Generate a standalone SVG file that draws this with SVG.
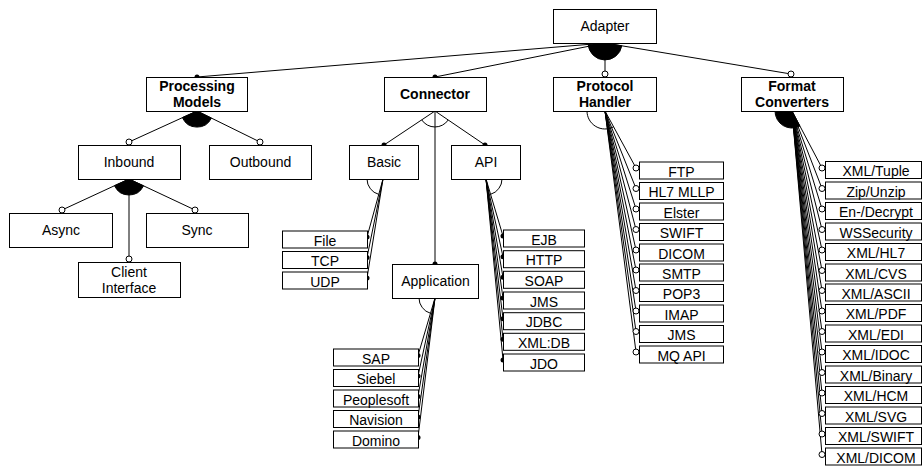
<svg xmlns="http://www.w3.org/2000/svg" width="923" height="466" viewBox="0 0 923 466">
<style>
rect{fill:#fff;stroke:#000;stroke-width:1}
text{font-family:"Liberation Sans",Arial,sans-serif;font-size:14px;text-anchor:middle;fill:#000}
.b{font-weight:bold}
.e line,.e path.l{stroke:#000;stroke-width:1;fill:none}
.arc{fill:none;stroke:#000;stroke-width:1}
.fill{fill:#000;stroke:#000;stroke-width:1}
.oc{fill:#fff;stroke:#000;stroke-width:1}
.fc{fill:#000}
</style>
<rect x="0" y="0" width="923" height="466" style="fill:#fff;stroke:none"/>
<g id="connectors" class="e">
<!-- Adapter -->
<line x1="605" y1="43" x2="197" y2="77"/>
<line x1="605" y1="43" x2="435" y2="77"/>
<line x1="605" y1="43" x2="605" y2="74"/>
<line x1="605" y1="43" x2="791" y2="74"/>
<path class="fill" d="M605,43 L621.8,45.8 A17,17 0 0,1 588.1,44.4 Z"/>
<circle class="fc" cx="197" cy="77" r="2.5"/>
<circle class="fc" cx="435" cy="77" r="2.5"/>
<circle class="oc" cx="605" cy="74" r="3"/>
<circle class="oc" cx="791" cy="74" r="3"/>
<!-- Processing Models -->
<line x1="197" y1="111" x2="129" y2="142"/>
<line x1="197" y1="111" x2="260" y2="142"/>
<path class="fill" d="M197,111 L211.4,118.1 A16,16 0 0,1 182.4,117.6 Z"/>
<circle class="oc" cx="129" cy="142" r="3"/>
<circle class="oc" cx="260" cy="142" r="3"/>
<!-- Inbound -->
<line x1="129" y1="179" x2="62" y2="210"/>
<line x1="129" y1="179" x2="195" y2="210"/>
<line x1="129" y1="179" x2="129" y2="259"/>
<path class="fill" d="M129,179 L143.5,185.8 A16,16 0 0,1 114.5,185.7 Z"/>
<circle class="oc" cx="62" cy="210" r="3"/>
<circle class="oc" cx="195" cy="210" r="3"/>
<circle class="oc" cx="129" cy="259" r="3"/>
<!-- Connector -->
<line x1="435" y1="111" x2="384" y2="145"/>
<line x1="435" y1="111" x2="485" y2="145"/>
<line x1="435" y1="111" x2="435" y2="264"/>
<path class="arc" d="M448.2,120 A16,16 0 0,1 421.7,119.9"/>
<circle class="fc" cx="384" cy="145" r="2.5"/>
<circle class="fc" cx="485" cy="145" r="2.5"/>
<circle class="fc" cx="435" cy="264" r="2.5"/>
<!-- Basic -->
<line x1="383" y1="179" x2="367" y2="237"/>
<line x1="383" y1="179" x2="367" y2="257.5"/>
<line x1="383" y1="179" x2="367" y2="278"/>
<path class="arc" d="M367,179 A16,16 0 0,0 378.8,194.4"/>
<circle class="fc" cx="367" cy="237" r="2.5"/>
<circle class="fc" cx="367" cy="257.5" r="2.5"/>
<circle class="fc" cx="367" cy="278" r="2.5"/>
<!-- API -->
<line x1="486" y1="179" x2="503" y2="236"/>
<line x1="486" y1="179" x2="503" y2="256.7"/>
<line x1="486" y1="179" x2="503" y2="277.3"/>
<line x1="486" y1="179" x2="503" y2="298"/>
<line x1="486" y1="179" x2="503" y2="318.7"/>
<line x1="486" y1="179" x2="503" y2="339.3"/>
<line x1="486" y1="179" x2="503" y2="360"/>
<path class="arc" d="M502,179 A16,16 0 0,1 490.6,194.3"/>
<circle class="fc" cx="503" cy="236" r="2.5"/>
<circle class="fc" cx="503" cy="256.7" r="2.5"/>
<circle class="fc" cx="503" cy="277.3" r="2.5"/>
<circle class="fc" cx="503" cy="298" r="2.5"/>
<circle class="fc" cx="503" cy="318.7" r="2.5"/>
<circle class="fc" cx="503" cy="339.3" r="2.5"/>
<circle class="fc" cx="503" cy="360" r="2.5"/>
<!-- Application -->
<line x1="435" y1="298" x2="418" y2="355.5"/>
<line x1="435" y1="298" x2="418" y2="376"/>
<line x1="435" y1="298" x2="418" y2="396.5"/>
<line x1="435" y1="298" x2="418" y2="417"/>
<line x1="435" y1="298" x2="418" y2="437.5"/>
<path class="arc" d="M419,298 A16,16 0 0,0 430.5,313.3"/>
<circle class="fc" cx="418" cy="355.5" r="2.5"/>
<circle class="fc" cx="418" cy="376" r="2.5"/>
<circle class="fc" cx="418" cy="396.5" r="2.5"/>
<circle class="fc" cx="418" cy="417" r="2.5"/>
<circle class="fc" cx="418" cy="437.5" r="2.5"/>
<!-- Protocol Handler -->
<line x1="605" y1="111" x2="636" y2="168"/>
<line x1="605" y1="111" x2="636" y2="188.5"/>
<line x1="605" y1="111" x2="636" y2="209"/>
<line x1="605" y1="111" x2="636" y2="229.5"/>
<line x1="605" y1="111" x2="636" y2="250"/>
<line x1="605" y1="111" x2="636" y2="270"/>
<line x1="605" y1="111" x2="636" y2="290.5"/>
<line x1="605" y1="111" x2="636" y2="311"/>
<line x1="605" y1="111" x2="636" y2="331.5"/>
<line x1="605" y1="111" x2="636" y2="352"/>
<path class="arc" d="M587,111 A18,18 0 0,0 613.6,126.8"/>
<circle class="oc" cx="636" cy="168" r="3"/>
<circle class="oc" cx="636" cy="188.5" r="3"/>
<circle class="oc" cx="636" cy="209" r="3"/>
<circle class="oc" cx="636" cy="229.5" r="3"/>
<circle class="oc" cx="636" cy="250" r="3"/>
<circle class="oc" cx="636" cy="270" r="3"/>
<circle class="oc" cx="636" cy="290.5" r="3"/>
<circle class="oc" cx="636" cy="311" r="3"/>
<circle class="oc" cx="636" cy="331.5" r="3"/>
<circle class="oc" cx="636" cy="352" r="3"/>
<!-- Format Converters -->
<line x1="792" y1="111" x2="822" y2="168"/>
<line x1="792" y1="111" x2="822" y2="188.5"/>
<line x1="792" y1="111" x2="822" y2="209"/>
<line x1="792" y1="111" x2="822" y2="229.5"/>
<line x1="792" y1="111" x2="822" y2="250"/>
<line x1="792" y1="111" x2="822" y2="270.5"/>
<line x1="792" y1="111" x2="822" y2="290.5"/>
<line x1="792" y1="111" x2="822" y2="311"/>
<line x1="792" y1="111" x2="822" y2="331.5"/>
<line x1="792" y1="111" x2="822" y2="352"/>
<line x1="792" y1="111" x2="822" y2="372.5"/>
<line x1="792" y1="111" x2="822" y2="393"/>
<line x1="792" y1="111" x2="822" y2="413.5"/>
<line x1="792" y1="111" x2="822" y2="434"/>
<line x1="792" y1="111" x2="822" y2="454.5"/>
<path class="fill" d="M792,111 L775,111 A17,17 0 0,0 799.9,126.1 Z"/>
<circle class="oc" cx="822" cy="168" r="3"/>
<circle class="oc" cx="822" cy="188.5" r="3"/>
<circle class="oc" cx="822" cy="209" r="3"/>
<circle class="oc" cx="822" cy="229.5" r="3"/>
<circle class="oc" cx="822" cy="250" r="3"/>
<circle class="oc" cx="822" cy="270.5" r="3"/>
<circle class="oc" cx="822" cy="290.5" r="3"/>
<circle class="oc" cx="822" cy="311" r="3"/>
<circle class="oc" cx="822" cy="331.5" r="3"/>
<circle class="oc" cx="822" cy="352" r="3"/>
<circle class="oc" cx="822" cy="372.5" r="3"/>
<circle class="oc" cx="822" cy="393" r="3"/>
<circle class="oc" cx="822" cy="413.5" r="3"/>
<circle class="oc" cx="822" cy="434" r="3"/>
<circle class="oc" cx="822" cy="454.5" r="3"/>
</g>
<g id="adapter"><rect x="553.5" y="9.5" width="103" height="34"/><text x="605" y="31">Adapter</text></g>
<g id="processing-models"><rect x="146.5" y="77.5" width="101" height="34"/><text class="b" x="197" y="90.5">Processing</text><text class="b" x="197" y="106.5">Models</text></g>
<g id="connector"><rect x="384.5" y="77.5" width="102" height="34"/><text class="b" x="435" y="99">Connector</text></g>
<g id="protocol-handler"><rect x="553.5" y="77.5" width="103" height="34"/><text class="b" x="605" y="90.5">Protocol</text><text class="b" x="605" y="106.5">Handler</text></g>
<g id="format-converters"><rect x="741.5" y="77.5" width="102" height="34"/><text class="b" x="792" y="90.5">Format</text><text class="b" x="792" y="106.5">Converters</text></g>
<g id="inbound"><rect x="78.5" y="145.5" width="102" height="34"/><text x="129" y="167">Inbound</text></g>
<g id="outbound"><rect x="209.5" y="145.5" width="102" height="34"/><text x="260.5" y="167">Outbound</text></g>
<g id="async"><rect x="9.5" y="213.5" width="103" height="34"/><text x="61" y="235">Async</text></g>
<g id="sync"><rect x="146.5" y="213.5" width="102" height="34"/><text x="197" y="235">Sync</text></g>
<g id="client-interface"><rect x="78.5" y="262.5" width="102" height="35"/><text x="129" y="277">Client</text><text x="129" y="293">Interface</text></g>
<g id="basic"><rect x="349.5" y="145.5" width="69" height="34"/><text x="384" y="167">Basic</text></g>
<g id="api"><rect x="451.5" y="145.5" width="69" height="34"/><text x="486" y="167">API</text></g>
<g id="application"><rect x="392.5" y="264.5" width="86" height="34"/><text x="435.5" y="286">Application</text></g>
<g id="file"><rect x="282.5" y="231" width="85" height="17"/><text x="325" y="245.5">File</text></g>
<g id="tcp"><rect x="282.5" y="251.5" width="85" height="17"/><text x="325" y="266">TCP</text></g>
<g id="udp"><rect x="282.5" y="272" width="85" height="17"/><text x="325" y="286.5">UDP</text></g>
<g id="ejb"><rect x="503.5" y="230" width="81" height="17"/><text x="544" y="244.5">EJB</text></g>
<g id="http"><rect x="503.5" y="250.7" width="81" height="17"/><text x="544" y="265.2">HTTP</text></g>
<g id="soap"><rect x="503.5" y="271.3" width="81" height="17"/><text x="544" y="285.8">SOAP</text></g>
<g id="jms-api"><rect x="503.5" y="292" width="81" height="17"/><text x="544" y="306.5">JMS</text></g>
<g id="jdbc"><rect x="503.5" y="312.7" width="81" height="17"/><text x="544" y="327.2">JDBC</text></g>
<g id="xmldb"><rect x="503.5" y="333.3" width="81" height="17"/><text x="544" y="347.8">XML:DB</text></g>
<g id="jdo"><rect x="503.5" y="354" width="81" height="17"/><text x="544" y="368.5">JDO</text></g>
<g id="sap"><rect x="333.5" y="349" width="85" height="17"/><text x="376" y="363.5">SAP</text></g>
<g id="siebel"><rect x="333.5" y="369.5" width="85" height="17"/><text x="376" y="384">Siebel</text></g>
<g id="peoplesoft"><rect x="333.5" y="390" width="85" height="17"/><text x="376" y="404.5">Peoplesoft</text></g>
<g id="navision"><rect x="333.5" y="410.5" width="85" height="17"/><text x="376" y="425">Navision</text></g>
<g id="domino"><rect x="333.5" y="431" width="85" height="17"/><text x="376" y="445.5">Domino</text></g>
<g id="ftp"><rect x="639.5" y="162" width="84" height="17"/><text x="681.5" y="176.5">FTP</text></g>
<g id="hl7mllp"><rect x="639.5" y="182.5" width="84" height="17"/><text x="681.5" y="197">HL7 MLLP</text></g>
<g id="elster"><rect x="639.5" y="203" width="84" height="17"/><text x="681.5" y="217.5">Elster</text></g>
<g id="swift"><rect x="639.5" y="223.5" width="84" height="17"/><text x="681.5" y="238">SWIFT</text></g>
<g id="dicom"><rect x="639.5" y="244" width="84" height="17"/><text x="681.5" y="258.5">DICOM</text></g>
<g id="smtp"><rect x="639.5" y="264" width="84" height="17"/><text x="681.5" y="278.5">SMTP</text></g>
<g id="pop3"><rect x="639.5" y="284.5" width="84" height="17"/><text x="681.5" y="299">POP3</text></g>
<g id="imap"><rect x="639.5" y="305" width="84" height="17"/><text x="681.5" y="319.5">IMAP</text></g>
<g id="jms"><rect x="639.5" y="325.5" width="84" height="17"/><text x="681.5" y="340">JMS</text></g>
<g id="mqapi"><rect x="639.5" y="346" width="84" height="17"/><text x="681.5" y="360.5">MQ API</text></g>
<g id="xml-tuple"><rect x="825.5" y="161.5" width="96" height="17"/><text x="876" y="176">XML/Tuple</text></g>
<g id="zip"><rect x="825.5" y="182" width="96" height="17"/><text x="876" y="196.5">Zip/Unzip</text></g>
<g id="crypt"><rect x="825.5" y="202.5" width="96" height="17"/><text x="876" y="217">En-/Decrypt</text></g>
<g id="wssecurity"><rect x="825.5" y="223" width="96" height="17"/><text x="876" y="237.5">WSSecurity</text></g>
<g id="xml-hl7"><rect x="825.5" y="243.5" width="96" height="17"/><text x="876" y="258">XML/HL7</text></g>
<g id="xml-cvs"><rect x="825.5" y="264" width="96" height="17"/><text x="876" y="278.5">XML/CVS</text></g>
<g id="xml-ascii"><rect x="825.5" y="284" width="96" height="17"/><text x="876" y="298.5">XML/ASCII</text></g>
<g id="xml-pdf"><rect x="825.5" y="304.5" width="96" height="17"/><text x="876" y="319">XML/PDF</text></g>
<g id="xml-edi"><rect x="825.5" y="325" width="96" height="17"/><text x="876" y="339.5">XML/EDI</text></g>
<g id="xml-idoc"><rect x="825.5" y="345.5" width="96" height="17"/><text x="876" y="360">XML/IDOC</text></g>
<g id="xml-binary"><rect x="825.5" y="366" width="96" height="17"/><text x="876" y="380.5">XML/Binary</text></g>
<g id="xml-hcm"><rect x="825.5" y="386.5" width="96" height="17"/><text x="876" y="401">XML/HCM</text></g>
<g id="xml-svg"><rect x="825.5" y="407" width="96" height="17"/><text x="876" y="421.5">XML/SVG</text></g>
<g id="xml-swift"><rect x="825.5" y="427.5" width="96" height="17"/><text x="876" y="442">XML/SWIFT</text></g>
<g id="xml-dicom"><rect x="825.5" y="448" width="96" height="17"/><text x="876" y="462.5">XML/DICOM</text></g>
</svg>
